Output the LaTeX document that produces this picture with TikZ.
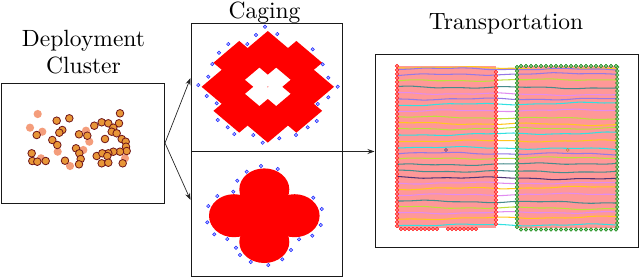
\documentclass[tikz,border=0pt]{standalone}
\usepackage{fontspec}
\newfontfamily\titlefont{lmroman10-regular.otf}
\usetikzlibrary{arrows.meta,calc}
\definecolor{dotfill}{RGB}{232,150,55}
\definecolor{dotedge}{RGB}{110,20,25}
\definecolor{dotlight}{RGB}{242,140,100}
\definecolor{pinkfill}{RGB}{255,152,152}
\definecolor{cagered}{RGB}{255,0,0}
\definecolor{robblue}{RGB}{30,40,255}
\definecolor{mred}{RGB}{255,20,20}
\definecolor{mgreen}{RGB}{20,140,20}
\definecolor{tA}{RGB}{150,120,230}
\definecolor{tB}{RGB}{190,225,60}
\definecolor{tC}{RGB}{70,140,140}
\definecolor{tD}{RGB}{50,225,225}
\definecolor{tE}{RGB}{255,200,30}
\definecolor{tF}{RGB}{225,140,240}
\definecolor{tG}{RGB}{80,55,120}
\definecolor{tH}{RGB}{255,175,60}
\tikzset{
  panel/.style={draw=black!90, line width=1pt, inner sep=0pt},
  title/.style={font=\titlefont\fontsize{23.5}{26}\selectfont, anchor=base, inner sep=0pt},
  flow/.style={line width=0.7pt, black!85, -{Stealth[length=7pt,width=5pt]}},
  agent/.style={fill=dotfill, draw=dotedge, line width=0.8pt},
  ghost/.style={fill=dotlight, draw=none, opacity=0.85},
  robot/.style={draw=robblue, fill=robblue!35, line width=0.5pt},
  rmark/.style={draw=mred, fill=mred!45, line width=0.5pt},
  gmark/.style={draw=mgreen, fill=mgreen!45, line width=0.5pt},
  traj/.style={line width=1.05pt}
}
\begin{document}
\begin{tikzpicture}[x=1pt,y=-1pt]
\useasboundingbox (0,0) rectangle (640,279);

% titles
\node[title] (tdep) at (83.5,46.7) {Deployment};
\node[title] (tclu) at (83.5,73) {Cluster};
\node[title] (tcag) at (264.5,18.3) {Caging};
\node[title] (ttra) at (506,29) {Transportation};

% panels
\node[panel, minimum width=163pt, minimum height=120pt] (dep) at (83,143) {};
\node[panel, minimum width=151pt, minimum height=128pt] (cagetop) at (266.5,87) {};
\node[panel, minimum width=151pt, minimum height=125pt] (cagebot) at (266.5,213.5) {};
\node[panel, minimum width=263pt, minimum height=193pt] (trans) at (506.5,150.5) {};

% deployment cluster
\foreach \p in {(37.7,114),(30,127.7),(42.3,131.7),(86,130.7),(89.3,141.7),(83.3,150),(57.7,151.7),(41,158.3),(70,166),(125,158.3)}
  \fill[ghost] \p circle (4.1);
\foreach \p in {(120,113.3),(56.7,120.7),(69.3,118.3),(94.3,125.7),(101.7,122.3),(108.3,123.3),(119,123.3),(62.3,130),(59.3,132.7),(113.3,127.7),(111.7,131.7),(36.7,135),(79,134.3),(87.3,135.7),(116.7,133.3),(105,139),(52.3,140),(57.3,145),(121.7,139),(125.7,141.7),(126,146.7),(126.7,151),(120,151.7),(113.3,151.7),(108.3,153.3),(76,148.3),(79.3,153.3),(31.7,153.3),(80.7,159),(96.7,156),(102.3,153.3),(107.3,156),(32.3,161),(37.3,161.7),(45.7,161),(65,160.7),(79,164.3),(101.7,163.3),(108.3,162.7),(122.7,163.3)}
  \draw[agent] \p circle (3.8);

% caging: cross ring of diamonds
\foreach \a in {0,45,...,315}
  \fill[cagered] ({267.8+40.4*cos(\a)+25.8},{86.8+34*sin(\a)}) -- ++(-25.8,21.8) -- ++(-25.8,-21.8) -- ++(25.8,-21.8) -- cycle;
\fill[pinkfill] (267.8,86.8) circle (0.8);
\foreach \p in {(265,26.7),(256,35),(277.3,34),(228.3,44),(247.3,44),(219,52.7),(312.7,49.3),(212.3,64),(322.7,64.3),(208.3,76.7),(328.3,77.7),(198.3,85),(337.7,86.7),(206.7,96),(328.3,97.3),(216.7,103.3),(317.7,104),(217.7,120),(316.7,121),(227.7,127.3),(307.7,127.3),(234.3,134),(253.3,135),(296,135),(279.3,138.3),(262.7,142.7)}
  \draw[robot] \p circle (1.7);

% caging: four-lobe shape
\fill[cagered] (234,215.7) ellipse (25 and 21.5);
\fill[cagered] (294.6,215.7) ellipse (25 and 21.5);
\fill[cagered] (264.3,189.4) ellipse (25 and 21);
\fill[cagered] (264.3,242) ellipse (25 and 21);
\fill[cagered] (240.3,195.7) rectangle (288.3,235.7);
\foreach \p in {(261,166),(277.7,169),(246.7,171.7),(237.3,180.7),(233.3,191.7),(217.3,196),(313.3,197.7),(208.3,206),(321.7,209),(207.3,222.3),(320.7,225),(214.3,234.3),(312.3,235.7),(227.3,239),(299,239.3),(236,247.7),(291,250),(240,255),(282.3,259.3),(250.7,262),(268.3,265)}
  \draw[robot] \p circle (1.7);

% transportation
\fill[pinkfill] (396.7,66) rectangle (496,228);
\fill[pinkfill] (516.7,66) rectangle (617.3,228);
\fill[white] (497.5,68) rectangle (515.5,226);
\foreach \yy/\c [count=\i] in {67/tE,68.5/tA,75/tA,81/tB,87/tC,93/tF,99/tA,105/tD,111/tF,117/tB,123/tE,129/tB,135/tD,141/tE,147/tD,153/tA,159/tB,165/tC,171/tC,177/tG,183/tF,189/tE,195/tF,201/tC,207/tB,213/tF,219/tE,225/tD}
  \draw[\c, traj] plot[smooth, domain=397:617, samples=18]
     (\x, {\yy + 0.7*sin((\x-397)*3+\i*53) + 0.4*sin((\x-397)*8+\i*31) + (\x-397)*0.01*sin(\i*77)});
% markers
\foreach \yy in {66,70,...,226} {
  \draw[rmark] (397,\yy) circle (1.8);
  \draw[gmark] (517,\yy+1) circle (1.8);
  \draw[gmark] (617.3,\yy+1) circle (1.8);
}
\foreach \yy in {72,76,...,224}
  \draw[rmark] (496,\yy) circle (1.8);
\foreach \xx in {401,405,...,437}
  \draw[rmark] (\xx,229) circle (1.8);
\foreach \xx in {448,452,...,476}
  \draw[rmark] (\xx,229) circle (1.8);
\foreach \xx in {521,526,...,616} {
  \draw[gmark] (\xx,66) circle (1.8);
  \draw[gmark] (\xx,229.5) circle (1.8);
}
\draw[tG, line width=0.5pt] (446,150) circle (1.5);
\draw[brown, line width=0.5pt] (567.7,150) circle (1.5);

% connectors
\draw[flow] (dep.east) -- ([yshift=9pt]cagetop.west);
\draw[flow] (dep.east) -- ([yshift=13.5pt]cagebot.west);
\draw[flow] (cagetop.south east) -- (cagetop.south east -| trans.west);
\end{tikzpicture}
\end{document}
